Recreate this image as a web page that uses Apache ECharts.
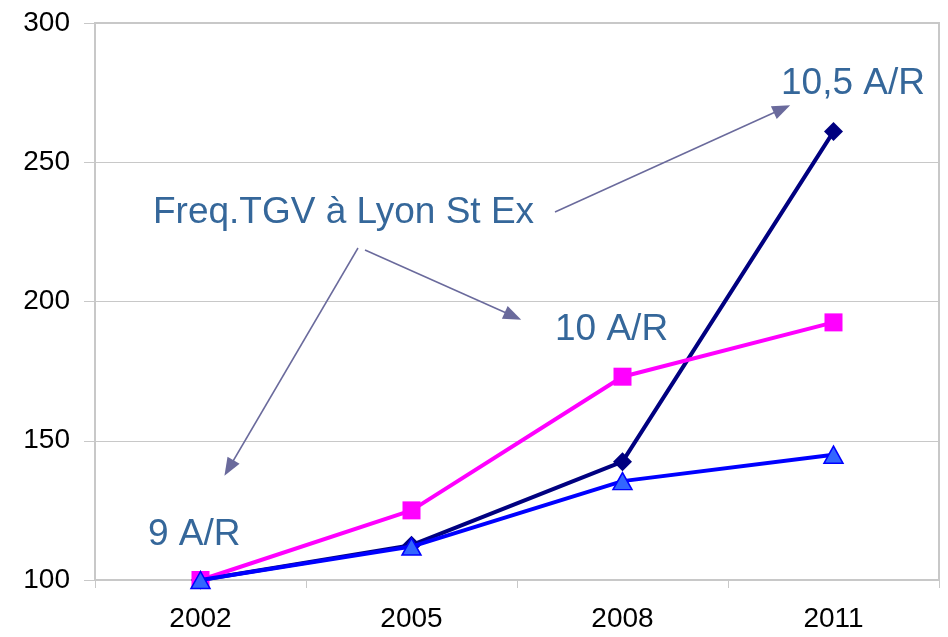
<!DOCTYPE html>
<html><head><meta charset="utf-8">
<script src="https://cdn.jsdelivr.net/npm/echarts@6/dist/echarts.min.js"></script>
<style>html,body{margin:0;padding:0;background:#fff}#c{width:948px;height:637px}</style>
</head><body><div id="c"></div>
<script>
const years = ['2002', '2005', '2008', '2011'];
const navyValues = [100, 112.5, 142.5, 261];
const magentaValues = [100, 125, 173, 192.5];
const blueValues = [100, 112, 135.5, 145];
const yTicks = {min: 100, max: 300, interval: 50};
const annotations = ['Freq.TGV à Lyon St Ex', '10,5 A/R', '10 A/R', '9 A/R'];

const font = 'Arial, "Liberation Sans", sans-serif';
const annColor = '#35679a';
const arrowColor = '#6a6a9c';
const chart = echarts.init(document.getElementById('c'));
chart.setOption({
  animation: false,
  grid: {left: 95, right: 9, top: 23, bottom: 57, show: true, borderColor: '#c8c8c8', borderWidth: 2},
  xAxis: {
    type: 'category', data: years, boundaryGap: true,
    axisLine: {lineStyle: {color: '#c8c8c8', width: 2}},
    axisTick: {show: true, length: 8, lineStyle: {color: '#c8c8c8', width: 1}},
    axisLabel: {color: '#000', fontSize: 28, fontFamily: font, margin: 25}
  },
  yAxis: {
    type: 'value', min: yTicks.min, max: yTicks.max, interval: yTicks.interval,
    axisLine: {show: true, lineStyle: {color: '#c8c8c8', width: 2}},
    axisTick: {show: true, length: 11, lineStyle: {color: '#c8c8c8', width: 1}},
    splitLine: {lineStyle: {color: '#c8c8c8', width: 1}},
    axisLabel: {color: '#000', fontSize: 28, fontFamily: font, margin: 25}
  },
  series: [
    {type: 'line', data: navyValues, symbol: 'diamond', symbolSize: 19,
     lineStyle: {color: '#000080', width: 4}, itemStyle: {color: '#000080'}, z: 2,
     markLine: {silent: true, symbol: ['none', 'triangle'], symbolSize: [14, 18],
       lineStyle: {color: arrowColor, width: 1.5, type: 'solid'}, label: {show: false},
       data: [
         [{x: 555, y: 212}, {x: 782, y: 109}],
         [{x: 358, y: 248}, {x: 229, y: 468}],
         [{x: 365, y: 250}, {x: 513, y: 316}]
       ]}},
    {type: 'line', data: magentaValues, symbol: 'rect', symbolSize: 18,
     lineStyle: {color: '#ff00ff', width: 4}, itemStyle: {color: '#ff00ff'}, z: 3},
    {type: 'line', data: blueValues, symbol: 'triangle', symbolSize: [19, 17],
     lineStyle: {color: '#0000ff', width: 4},
     itemStyle: {color: '#3366ff', borderColor: '#0000ff', borderWidth: 1.5}, z: 4}
  ],
  graphic: [
    {type: 'text', left: 153, top: 194, style: {text: annotations[0], fill: annColor, font: '37px ' + font}},
    {type: 'text', left: 781, top: 65, style: {text: annotations[1], fill: annColor, font: '37px ' + font}},
    {type: 'text', left: 555, top: 311, style: {text: annotations[2], fill: annColor, font: '37px ' + font}},
    {type: 'text', left: 148, top: 516, style: {text: annotations[3], fill: annColor, font: '37px ' + font}}
  ]
});
</script></body></html>
